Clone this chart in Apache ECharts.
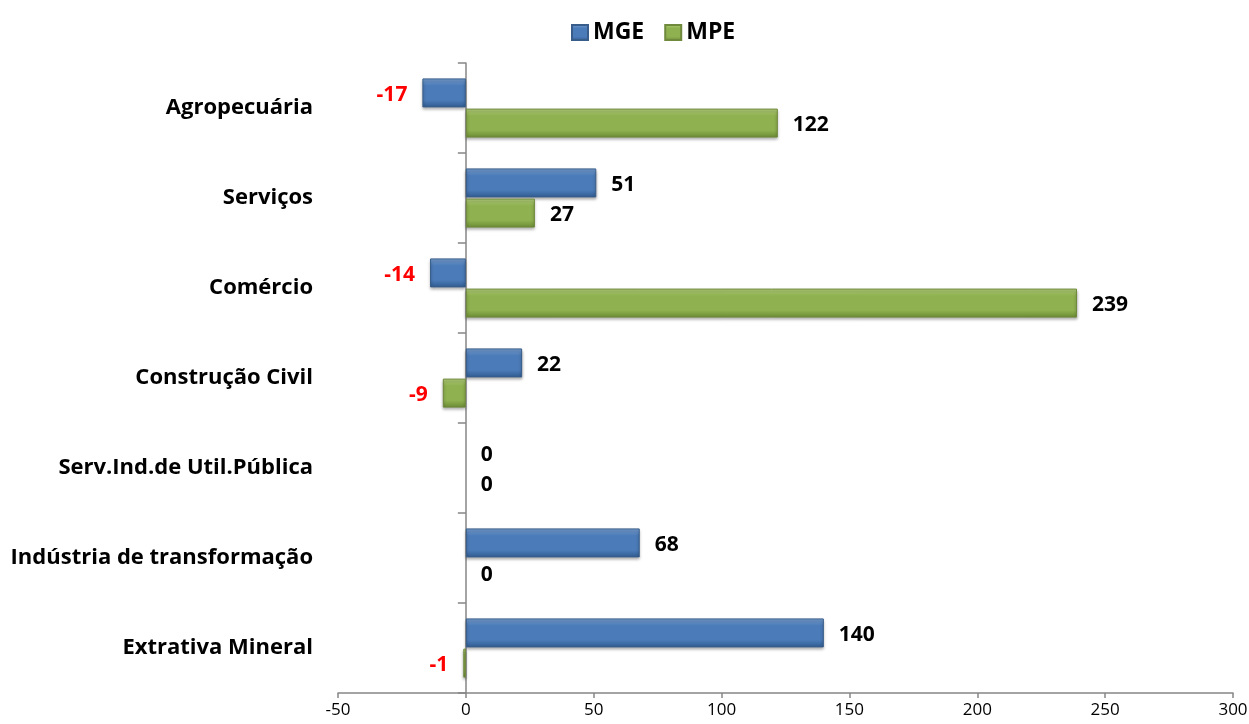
<!DOCTYPE html>
<html>
<head>
<meta charset="utf-8">
<script src="https://cdn.jsdelivr.net/npm/echarts@6/dist/echarts.min.js"></script>
<style>
    html, body { margin: 0; padding: 0; background: #fff; }
    #chart { width: 1249px; height: 724px; }
</style>
</head>
<body>
<div id="chart"></div>
<script>
// categories listed bottom to top
var categories = ['Extrativa Mineral', 'Indústria de transformação', 'Serv.Ind.de Util.Pública',
    'Construção Civil', 'Comércio', 'Serviços', 'Agropecuária'];
var mgeValues = [140, 68, 0, 22, -14, 51, -17];
var mpeValues = [-1, 0, 0, -9, 239, 27, 122];
var xTicks = { min: -50, max: 300, interval: 50 };

var myChart = echarts.init(document.getElementById('chart'));

function bevel(light, mid, dark) {
    return new echarts.graphic.LinearGradient(0, 0, 0, 1, [
        { offset: 0, color: light },
        { offset: 0.25, color: mid },
        { offset: 0.75, color: mid },
        { offset: 1, color: dark }
    ]);
}

function withLabels(values) {
    return values.map(function (v) {
        var item = {
            value: v,
            label: {
                position: v < 0 ? 'left' : 'right',
                color: v < 0 ? '#ff0000' : '#000000'
            }
        };
        if (v === 0) {
            item.itemStyle = { borderWidth: 0, shadowBlur: 0, shadowOffsetY: 0 };
        }
        return item;
    });
}

var labelStyle = {
    show: true,
    distance: 15,
    offset: [0, 2],
    fontFamily: 'Open Sans',
    fontWeight: 'bold',
    fontSize: 21
};

var option = {
    textStyle: { fontFamily: 'Open Sans' },
    legend: {
        data: ['MGE', 'MPE'],
        icon: 'rect',
        top: 16,
        left: 566,
        itemWidth: 16,
        itemHeight: 15,
        itemGap: 20,
        textStyle: { fontFamily: 'Open Sans', fontWeight: 'bold', fontSize: 23, color: '#000' }
    },
    grid: { left: 338, right: 16, top: 63, bottom: 31, containLabel: false, outerBoundsMode: 'none' },
    xAxis: {
        type: 'value',
        min: xTicks.min,
        max: xTicks.max,
        interval: xTicks.interval,
        splitLine: { show: false },
        axisLine: { show: true, lineStyle: { color: '#868686', width: 1.5 } },
        axisTick: { show: true, length: 5, lineStyle: { color: '#868686', width: 1.5 } },
        axisLabel: { fontFamily: 'Open Sans', fontSize: 17, color: '#000', margin: 9 }
    },
    yAxis: {
        type: 'category',
        data: categories,
        axisLine: { onZero: true, lineStyle: { color: '#868686', width: 1.5 } },
        axisTick: { show: true, length: 8, lineStyle: { color: '#868686', width: 1.5 } },
        axisLabel: {
            fontFamily: 'Open Sans', fontWeight: 'bold', fontSize: 22, color: '#000', margin: 25,
            padding: [3, 0, 0, 0]
        }
    },
    series: [
        {
            name: 'MGE',
            type: 'bar',
            barWidth: 29,
            barGap: '4%',
            data: withLabels(mgeValues),
            label: labelStyle,
            itemStyle: {
                color: bevel('#7aa3d6', '#4b7bb8', '#2f5a8f'),
                borderColor: '#385d8a',
                borderWidth: 1,
                shadowColor: 'rgba(0,0,0,0.35)',
                shadowBlur: 3,
                shadowOffsetY: 2
            }
        },
        {
            name: 'MPE',
            type: 'bar',
            barWidth: 29,
            barGap: '4%',
            data: withLabels(mpeValues),
            label: labelStyle,
            itemStyle: {
                color: bevel('#b7d27f', '#8fb14f', '#6b8a34'),
                borderColor: '#6f8a3c',
                borderWidth: 1,
                shadowColor: 'rgba(0,0,0,0.35)',
                shadowBlur: 3,
                shadowOffsetY: 2
            }
        }
    ]
};

myChart.setOption(option);
window.addEventListener('resize', function () {
    myChart.resize();
});
</script>
</body>
</html>
